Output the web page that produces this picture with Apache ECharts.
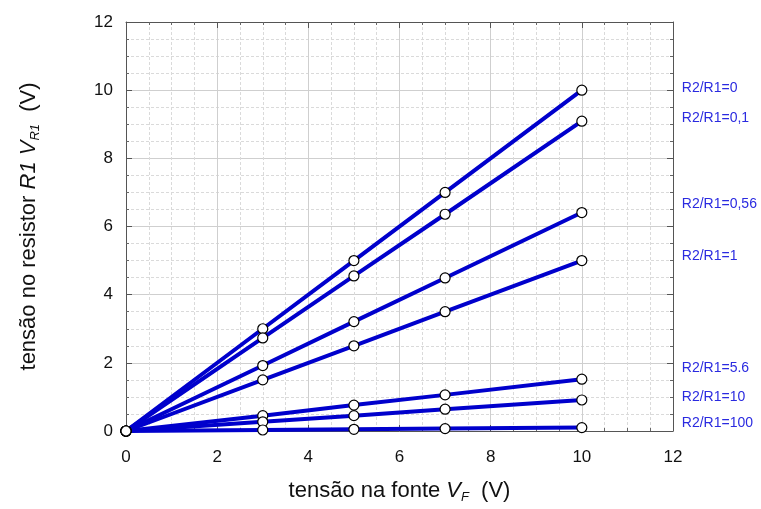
<!DOCTYPE html>
<html>
<head>
<meta charset="utf-8">
<script src="https://cdn.jsdelivr.net/npm/echarts@6/dist/echarts.min.js"></script>
<style>
  html, body { margin: 0; padding: 0; background: #fff; }
  #chart { width: 761px; height: 509px; }
</style>
</head>
<body>
<div id="chart"></div>
<script>
  // tensão na fonte (V)
  var vFonte = [0, 3, 5, 7, 10];
  var ratios = ['R2/R1=0', 'R2/R1=0,1', 'R2/R1=0,56', 'R2/R1=1', 'R2/R1=5.6', 'R2/R1=10', 'R2/R1=100'];
  // tensão no resistor R1 para cada razão
  var vR1_0 = [0, 3, 5, 7, 10];
  var vR1_01 = [0, 2.73, 4.55, 6.36, 9.09];
  var vR1_056 = [0, 1.92, 3.21, 4.49, 6.41];
  var vR1_1 = [0, 1.5, 2.5, 3.5, 5];
  var vR1_56 = [0, 0.45, 0.76, 1.06, 1.52];
  var vR1_10 = [0, 0.27, 0.45, 0.64, 0.91];
  var vR1_100 = [0, 0.03, 0.05, 0.07, 0.1];
  var allSeries = [vR1_0, vR1_01, vR1_056, vR1_1, vR1_56, vR1_10, vR1_100];
  // deslocamento vertical dos rótulos à direita
  var labelShift = [-2, -3, -8, -4, -11, -3, -4];

  var font = 'Liberation Sans, Arial, Helvetica, sans-serif';
  var blue = '#0000cc';

  var chart = echarts.init(document.getElementById('chart'));

  function axisBase(showLabel) {
    return {
      type: 'value',
      min: 0,
      max: 12,
      interval: 2,
      axisLine: { show: true, onZero: false, lineStyle: { color: '#555', width: 1 } },
      axisTick: { show: true, inside: true, length: 6, lineStyle: { color: '#555' } },
      minorTick: { show: true, splitNumber: 4, length: 3, lineStyle: { color: '#666' } },
      axisLabel: { show: showLabel, color: '#111', fontSize: 17, fontFamily: font },
      splitLine: { show: false },
      minorSplitLine: { show: false }
    };
  }

  var xMain = axisBase(true);
  xMain.position = 'bottom';
  xMain.axisLabel.margin = 18;
  xMain.splitLine = { show: true, lineStyle: { color: '#cfcfcf', width: 1 } };
  xMain.minorSplitLine = { show: true, lineStyle: { color: '#dadada', type: [3, 2], width: 1 } };
  xMain.name = '{t|tensão na fonte }{i|V}{s|F}{t| (V)}';
  xMain.nameLocation = 'middle';
  xMain.nameGap = 46;
  xMain.nameTextStyle = {
    rich: {
      t: { fontSize: 22, fontFamily: font, color: '#111' },
      i: { fontSize: 22, fontFamily: font, fontStyle: 'italic', color: '#111' },
      s: { fontSize: 13, fontFamily: font, fontStyle: 'italic', color: '#111', verticalAlign: 'bottom', padding: [14, 6, 0, 0] }
    }
  };

  var xTop = axisBase(false);
  xTop.position = 'top';

  var yMain = axisBase(true);
  yMain.position = 'left';
  yMain.axisLabel.margin = 13;
  yMain.splitLine = { show: true, lineStyle: { color: '#cfcfcf', width: 1 } };
  yMain.minorSplitLine = { show: true, lineStyle: { color: '#dadada', type: [3, 2], width: 1 } };
  yMain.name = '{t|tensão no resistor }{i|R1 V}{s|R1}{t| (V)}';
  yMain.nameLocation = 'middle';
  yMain.nameGap = 84;
  yMain.nameTextStyle = {
    rich: {
      t: { fontSize: 22, fontFamily: font, color: '#111' },
      i: { fontSize: 22, fontFamily: font, fontStyle: 'italic', color: '#111' },
      s: { fontSize: 13, fontFamily: font, fontStyle: 'italic', color: '#111', verticalAlign: 'bottom', padding: [14, 6, 0, 0] }
    }
  };

  var yRight = axisBase(false);
  yRight.position = 'right';

  var series = allSeries.map(function (vals, i) {
    return {
      name: ratios[i],
      type: 'line',
      xAxisIndex: 0,
      yAxisIndex: 0,
      data: vFonte.map(function (x, j) { return [x, vals[j]]; }),
      symbol: 'circle',
      symbolSize: 10,
      showAllSymbol: true,
      lineStyle: { color: blue, width: 4 },
      itemStyle: { color: '#fff', borderColor: '#000', borderWidth: 1.2 },
      emphasis: { disabled: true },
      endLabel: {
        show: true,
        formatter: ratios[i],
        distance: 0,
        offset: [100, labelShift[i]],
        color: '#2a2ae0',
        fontSize: 14,
        fontFamily: font
      },
      animation: false
    };
  });

  chart.setOption({
    animation: false,
    backgroundColor: '#fff',
    grid: { left: 126, right: 88, top: 22, bottom: 77.5 },
    xAxis: [xMain, xTop],
    yAxis: [yMain, yRight],
    series: series
  });
</script>
</body>
</html>
